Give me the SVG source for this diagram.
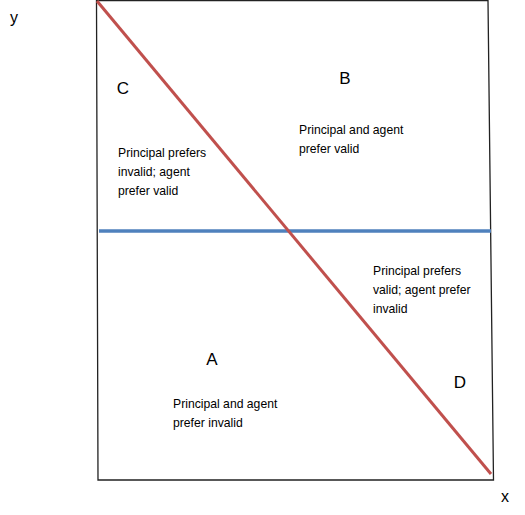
<svg xmlns="http://www.w3.org/2000/svg" width="525" height="515" viewBox="0 0 525 515">
<style>
.lbl{font-family:"Liberation Sans",Arial,sans-serif;font-size:17px;fill:#000}
.txt{font-family:"Liberation Sans",Arial,sans-serif;font-size:12.2px;fill:#000}
.ax{font-family:"Liberation Sans",Arial,sans-serif;font-size:16px;fill:#000}
</style>
<rect width="525" height="515" fill="#fff"/>
<g id="frame">
<path d="M96.5,0.7 L488,0.7 L493.5,480 L98,480 Z" fill="none" stroke="#222" stroke-width="1.3"/>
</g>
<g id="connectors">
<line x1="99" y1="231" x2="491" y2="231" stroke="#4F81BD" stroke-width="3.5"/>
<line x1="97" y1="1" x2="491" y2="474" stroke="#C0504D" stroke-width="3"/>
</g>
<g id="axis-y"><text class="ax" x="14" y="23" text-anchor="middle">y</text></g>
<g id="axis-x"><text class="ax" x="505" y="502" text-anchor="middle">x</text></g>
<g id="region-C">
<text class="lbl" x="123" y="94" text-anchor="middle">C</text>
<text class="txt" x="118" y="157">Principal prefers</text>
<text class="txt" x="118" y="176">invalid; agent</text>
<text class="txt" x="118" y="195">prefer valid</text>
</g>
<g id="region-B">
<text class="lbl" x="345" y="84" text-anchor="middle">B</text>
<text class="txt" x="299" y="134">Principal and agent</text>
<text class="txt" x="299" y="153">prefer valid</text>
</g>
<g id="region-D">
<text class="txt" x="373" y="275">Principal prefers</text>
<text class="txt" x="373" y="294">valid; agent prefer</text>
<text class="txt" x="373" y="313">invalid</text>
<text class="lbl" x="460" y="388" text-anchor="middle">D</text>
</g>
<g id="region-A">
<text class="lbl" x="212" y="365" text-anchor="middle">A</text>
<text class="txt" x="173" y="408">Principal and agent</text>
<text class="txt" x="173" y="427">prefer invalid</text>
</g>
</svg>
